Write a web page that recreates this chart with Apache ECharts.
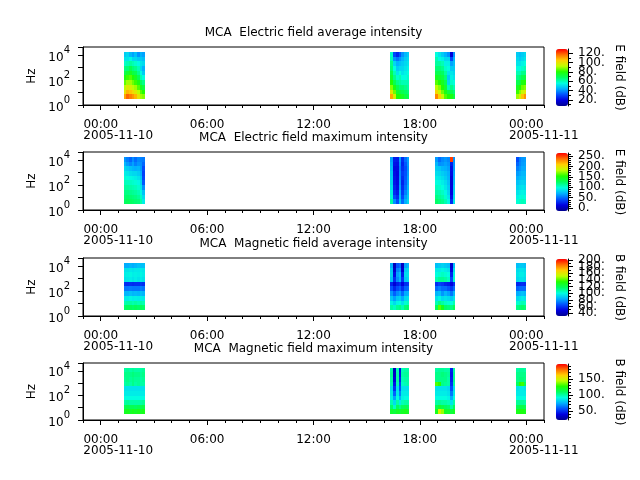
<!DOCTYPE html>
<html>
<head>
<meta charset="utf-8">
<title>MCA spectrograms 2005-11-10</title>
<script src="https://cdn.jsdelivr.net/npm/echarts@6/dist/echarts.min.js"></script>
<style>
  html, body { margin: 0; padding: 0; background: #fff; }
  #chart { width: 640px; height: 480px; }
</style>
</head>
<body>
<div id="chart"></div>
<script>
// time is in hours after 2005-11-10 00:00 UT; each burst is a list of column edges
const blockEdges = [
  [1.30, 1.45, 1.60, 1.74, 1.89, 2.04, 2.19, 2.33, 2.48],
  [16.34, 16.49, 16.65, 16.80, 16.95, 17.10, 17.26, 17.41],
  [18.87, 19.03, 19.19, 19.35, 19.52, 19.68, 19.84, 20.00],
  [23.44, 23.58, 23.72, 23.86, 24.00]
];
// frequency bin edges, Hz
const freqEdges = [3, 7.2, 17, 41, 96, 230, 545, 1300, 3080, 7300, 17400];

// one row per time column, values from lowest to highest frequency bin (dB)
const eAvg = [
  [110, 100, 92, 85, 78, 70, 65, 58, 52, 48],
  [118, 108, 98, 90, 82, 74, 66, 60, 52, 50],
  [115, 106, 96, 90, 84, 76, 70, 62, 55, 45],
  [112, 102, 92, 86, 80, 72, 66, 60, 50, 42],
  [108, 98, 90, 82, 76, 70, 64, 58, 50, 46],
  [100, 92, 84, 78, 70, 64, 60, 55, 48, 40],
  [90, 84, 76, 68, 60, 55, 50, 52, 48, 44],
  [88, 80, 72, 64, 56, 48, 44, 50, 46, 42],
  [110, 98, 88, 80, 74, 70, 66, 64, 60, 58],
  [96, 86, 78, 70, 64, 60, 56, 50, 40, 30],
  [80, 74, 70, 64, 58, 52, 48, 44, 36, 25],
  [78, 72, 66, 62, 60, 56, 50, 46, 40, 32],
  [76, 70, 66, 60, 56, 52, 50, 48, 44, 40],
  [72, 68, 64, 60, 56, 54, 52, 50, 48, 45],
  [70, 66, 62, 60, 58, 56, 54, 52, 50, 48],
  [114, 102, 92, 84, 76, 70, 66, 62, 60, 56],
  [104, 94, 88, 80, 74, 70, 66, 62, 56, 52],
  [94, 86, 80, 76, 72, 68, 64, 60, 54, 48],
  [84, 78, 74, 70, 66, 62, 58, 54, 50, 44],
  [80, 72, 60, 50, 48, 52, 56, 54, 50, 40],
  [78, 70, 64, 58, 54, 52, 48, 42, 30, 18],
  [72, 66, 60, 56, 52, 50, 48, 46, 44, 40],
  [90, 82, 76, 70, 64, 60, 56, 52, 50, 48],
  [96, 88, 80, 72, 66, 60, 56, 52, 48, 46],
  [106, 94, 86, 78, 70, 64, 58, 54, 50, 48],
  [112, 98, 88, 80, 72, 64, 60, 56, 52, 50]
];
const eMax = [
  [125, 122, 118, 112, 106, 100, 92, 84, 72, 62],
  [128, 124, 118, 112, 105, 98, 90, 80, 64, 55],
  [126, 122, 116, 110, 104, 96, 86, 76, 58, 48],
  [124, 120, 114, 108, 102, 94, 84, 72, 66, 60],
  [122, 118, 112, 106, 100, 92, 84, 70, 56, 50],
  [120, 114, 108, 102, 96, 88, 80, 72, 62, 58],
  [110, 104, 96, 90, 84, 78, 70, 64, 60, 56],
  [92, 86, 76, 60, 44, 38, 36, 40, 48, 54],
  [110, 100, 94, 88, 84, 80, 78, 74, 70, 66],
  [60, 40, 30, 26, 22, 20, 18, 16, 20, 24],
  [40, 30, 22, 18, 16, 15, 14, 16, 18, 22],
  [78, 74, 70, 66, 62, 60, 58, 56, 60, 64],
  [50, 40, 34, 30, 26, 30, 34, 30, 26, 30],
  [70, 64, 56, 50, 46, 44, 42, 40, 44, 50],
  [84, 80, 76, 72, 68, 66, 64, 62, 64, 66],
  [124, 118, 110, 104, 98, 92, 86, 80, 72, 64],
  [120, 114, 108, 102, 96, 90, 84, 78, 60, 50],
  [116, 110, 104, 98, 92, 86, 80, 72, 62, 58],
  [108, 102, 96, 90, 86, 80, 76, 70, 66, 62],
  [96, 90, 84, 80, 76, 72, 70, 66, 62, 58],
  [30, 20, 14, 12, 10, 12, 16, 18, 24, 250],
  [90, 86, 82, 78, 74, 70, 68, 64, 62, 60],
  [100, 94, 88, 82, 76, 70, 64, 56, 48, 40],
  [104, 98, 92, 86, 80, 74, 68, 62, 58, 56],
  [106, 100, 94, 88, 82, 76, 72, 68, 64, 62],
  [104, 98, 92, 86, 80, 76, 72, 68, 66, 64]
];
const bAvg = [
  [116, 106, 96, 84, 72, 58, 94, 96, 94, 82],
  [118, 108, 96, 84, 72, 57, 95, 97, 94, 82],
  [118, 108, 98, 86, 73, 58, 96, 98, 95, 84],
  [116, 106, 96, 84, 72, 57, 94, 96, 94, 82],
  [118, 108, 97, 85, 72, 58, 96, 97, 95, 84],
  [116, 106, 96, 84, 72, 58, 94, 96, 95, 86],
  [118, 108, 97, 86, 74, 60, 96, 98, 96, 86],
  [116, 106, 96, 84, 72, 58, 94, 96, 95, 86],
  [108, 98, 88, 78, 66, 56, 86, 90, 88, 82],
  [104, 92, 80, 68, 56, 46, 58, 50, 44, 40],
  [110, 98, 88, 76, 64, 54, 76, 80, 74, 66],
  [112, 100, 90, 80, 68, 58, 84, 86, 78, 70],
  [106, 94, 82, 70, 58, 48, 60, 54, 46, 42],
  [114, 102, 92, 82, 68, 58, 88, 92, 88, 80],
  [116, 104, 94, 84, 70, 60, 92, 94, 92, 84],
  [118, 106, 94, 84, 70, 58, 106, 100, 96, 86],
  [140, 112, 98, 86, 74, 62, 110, 102, 96, 88],
  [130, 108, 92, 78, 70, 60, 110, 104, 98, 90],
  [116, 104, 94, 84, 70, 56, 108, 102, 96, 88],
  [114, 102, 92, 80, 66, 54, 104, 100, 94, 86],
  [112, 100, 88, 72, 60, 48, 64, 56, 48, 44],
  [118, 106, 94, 84, 70, 58, 102, 98, 94, 86],
  [112, 102, 92, 82, 68, 56, 92, 94, 92, 86],
  [114, 104, 94, 84, 70, 57, 94, 96, 94, 88],
  [116, 106, 96, 86, 70, 58, 94, 96, 94, 88],
  [114, 104, 94, 84, 70, 57, 92, 94, 92, 86]
];
const bMax = [
  [120, 112, 100, 92, 88, 86, 100, 102, 104, 100],
  [122, 114, 102, 92, 88, 86, 102, 104, 104, 102],
  [120, 112, 100, 92, 88, 86, 100, 102, 104, 100],
  [122, 112, 100, 92, 88, 86, 104, 104, 106, 102],
  [120, 110, 100, 92, 88, 86, 100, 102, 104, 100],
  [122, 112, 100, 92, 88, 86, 102, 102, 104, 100],
  [120, 112, 100, 92, 88, 86, 100, 100, 102, 100],
  [122, 114, 102, 92, 88, 86, 100, 102, 104, 102],
  [118, 108, 98, 90, 88, 86, 98, 100, 102, 100],
  [116, 96, 84, 72, 60, 50, 44, 38, 34, 32],
  [120, 110, 100, 92, 88, 86, 98, 100, 100, 98],
  [118, 104, 88, 76, 66, 58, 54, 48, 44, 42],
  [120, 110, 98, 90, 88, 86, 96, 98, 100, 98],
  [122, 112, 100, 92, 88, 86, 98, 100, 102, 100],
  [120, 110, 100, 92, 88, 86, 100, 100, 102, 100],
  [122, 112, 100, 92, 88, 86, 132, 104, 104, 100],
  [150, 118, 102, 92, 88, 86, 128, 104, 104, 102],
  [140, 114, 100, 92, 88, 86, 104, 104, 106, 102],
  [120, 110, 100, 92, 88, 86, 102, 104, 104, 100],
  [118, 108, 98, 90, 86, 84, 100, 100, 102, 100],
  [116, 100, 86, 74, 64, 56, 50, 46, 44, 46],
  [120, 110, 100, 92, 88, 86, 100, 102, 102, 100],
  [122, 112, 102, 92, 88, 86, 110, 104, 104, 100],
  [124, 114, 102, 92, 88, 88, 128, 106, 104, 102],
  [124, 114, 102, 92, 88, 88, 130, 106, 104, 102],
  [122, 112, 100, 92, 88, 86, 112, 104, 104, 100]
];

const titles = [
  'MCA  Electric field average intensity',
  'MCA  Electric field maximum intensity',
  'MCA  Magnetic field average intensity',
  'MCA  Magnetic field maximum intensity'
];
const cbNames = ['E field (dB)', 'E field (dB)', 'B field (dB)', 'B field (dB)'];
const cbMin = [7, -14, 31, 22];
const cbMax = [129, 265, 203, 197];
const cbMajor = [
  [20, 40, 60, 80, 100, 120],
  [0, 50, 100, 150, 200, 250],
  [40, 60, 80, 100, 120, 140, 160, 180, 200],
  [50, 100, 150]
];
const cbMinor = [
  [10, 30, 50, 70, 90, 110],
  [10, 20, 30, 40, 60, 70, 80, 90, 110, 120, 130, 140, 160, 170, 180, 190, 210, 220, 230, 240, 260],
  [50, 70, 90, 110, 130, 150, 170, 190],
  [30, 40, 60, 70, 80, 90, 110, 120, 130, 140, 160, 170, 180, 190]
];
const majorHours = [0, 6, 12, 18, 24];
const minorHours = [-1, 1, 2, 3, 4, 5, 7, 8, 9, 10, 11, 13, 14, 15, 16, 17, 19, 20, 21, 22, 23, 25];

// layout
const T0 = Date.UTC(2005, 10, 10);
const HOUR = 3600 * 1000;
const gridTop = [47, 152, 258, 363];
const gridH = [58, 58, 58, 57];
const cbTop = [49, 153, 259, 364];
const cbH = [57, 58, 57, 56];
const cmap = ['#000090', '#0000e0', '#0050ff', '#00b0ff', '#00ffe0', '#00ff60',
  '#20ff00', '#c0ff00', '#ffd000', '#ff7000', '#ff0000'];
const black = '#000';
// colour bar labels sit close together, so they are spread over three
// overlaid axes to keep echarts from dropping the ones that touch
const labelSets = [0, 1, 2];

function cells(values) {
  const out = [];
  let c = 0;
  blockEdges.forEach(edges => {
    for (let k = 0; k < edges.length - 1; k++, c++) {
      values[c].forEach((v, r) => {
        out.push([T0 + edges[k] * HOUR, T0 + edges[k + 1] * HOUR, freqEdges[r], freqEdges[r + 1], v]);
      });
    }
  });
  return out;
}

function renderCell(params, api) {
  const a = api.coord([api.value(0), api.value(3)]);
  const b = api.coord([api.value(1), api.value(2)]);
  const x0 = Math.round(a[0]), x1 = Math.round(b[0]);
  const y0 = Math.round(a[1]), y1 = Math.round(b[1]);
  return {
    type: 'rect',
    shape: { x: x0, y: y0, width: x1 - x0, height: y1 - y0 },
    style: { fill: api.visual('color') }
  };
}

const pad2 = n => String(n).padStart(2, '0');
function timeLabel(value) {
  const d = new Date(value);
  const hm = pad2(d.getUTCHours()) + ':' + pad2(d.getUTCMinutes());
  if (d.getUTCHours() === 0) {
    const day = d.getUTCFullYear() + '-' + pad2(d.getUTCMonth() + 1) + '-' + pad2(d.getUTCDate());
    return '{t|' + hm + '}\n{p| }{t|' + day + '}';
  }
  return '{t|' + hm + '}';
}

function hzLabel(v) {
  const e = Math.round(Math.log10(v));
  return e % 2 === 0 ? '{b|10}{s|' + e + '}' : '';
}

const panelValues = [eAvg, eMax, bAvg, bMax];
const option = {
  animation: false,
  textStyle: { fontFamily: 'DejaVu Sans', color: black },
  title: [], grid: [], xAxis: [], yAxis: [], visualMap: [], series: []
};

panelValues.forEach((values, i) => {
  option.title.push({
    text: titles[i], left: 313.5, top: gridTop[i] - 20, textAlign: 'center', padding: 0,
    textStyle: { fontFamily: 'DejaVu Sans', fontSize: 12, fontWeight: 'normal', color: black }
  });
  option.grid.push({
    left: 83, top: gridTop[i], width: 461, height: gridH[i],
    show: true, borderColor: black, borderWidth: 1, backgroundColor: 'transparent'
  });
  // major hour ticks with labels (x values are UT milliseconds)
  option.xAxis.push({
    gridIndex: i, type: 'value', position: 'bottom',
    min: T0 - HOUR, max: T0 + 25 * HOUR,
    axisLine: { onZero: false, lineStyle: { color: black, width: 1 } },
    axisTick: { length: 5, lineStyle: { color: black }, customValues: majorHours.map(h => T0 + h * HOUR) },
    axisLabel: {
      customValues: majorHours.map(h => T0 + h * HOUR), hideOverlap: false,
      formatter: timeLabel, margin: 14, color: black,
      rich: {
        t: { fontFamily: 'DejaVu Sans', fontSize: 12, lineHeight: 11, color: black },
        p: { width: 35, lineHeight: 11 }
      }
    },
    splitLine: { show: false }
  });
  // minor hour ticks
  option.xAxis.push({
    gridIndex: i, type: 'value', position: 'bottom',
    min: T0 - HOUR, max: T0 + 25 * HOUR,
    axisLine: { show: false, onZero: false },
    axisTick: { length: 3, lineStyle: { color: black }, customValues: minorHours.map(h => T0 + h * HOUR) },
    axisLabel: { show: false },
    splitLine: { show: false }
  });
  option.yAxis.push({
    gridIndex: i, type: 'log', logBase: 10, min: 1, max: 43000,
    name: 'Hz', nameLocation: 'middle', nameRotate: 90, nameGap: 42,
    nameTextStyle: { fontFamily: 'DejaVu Sans', fontSize: 12, color: black },
    axisLine: { show: true, onZero: false, lineStyle: { color: black, width: 1 } },
    axisTick: { show: true, length: 5, lineStyle: { color: black } },
    axisLabel: {
      formatter: hzLabel, margin: 13, color: black, hideOverlap: false,
      rich: {
        b: { fontFamily: 'DejaVu Sans', fontSize: 12, lineHeight: 12, padding: [5, 0, 0, 0], color: black },
        s: { fontFamily: 'DejaVu Sans', fontSize: 10, lineHeight: 10, padding: [0, 0, 9, 0], color: black }
      }
    },
    splitLine: { show: false }
  });
  option.series.push({
    type: 'custom', xAxisIndex: 2 * i, yAxisIndex: i, silent: true,
    renderItem: renderCell,
    encode: { x: [0, 1], y: [2, 3] },
    data: cells(values)
  });
  option.visualMap.push({
    type: 'continuous', seriesIndex: i, dimension: 4,
    min: cbMin[i], max: cbMax[i], calculable: false, hoverLink: false,
    left: 556, top: cbTop[i], itemWidth: 12, itemHeight: cbH[i], padding: 0,
    inRange: { color: cmap }
  });
});

// colour bar axes
panelValues.forEach((values, i) => {
  option.grid.push({ left: 556, top: cbTop[i], width: 12, height: cbH[i] });
  option.xAxis.push({ gridIndex: 4 + i, type: 'value', min: 0, max: 1, show: false });
});
panelValues.forEach((values, i) => {
  // line, name and major ticks
  option.yAxis.push({
    gridIndex: 4 + i, type: 'value', position: 'right', min: cbMin[i], max: cbMax[i],
    name: cbNames[i], nameLocation: 'middle', nameRotate: -90, nameGap: 45,
    nameTextStyle: { fontFamily: 'DejaVu Sans', fontSize: 12, color: black },
    axisLine: { show: true, onZero: false, lineStyle: { color: black, width: 1 } },
    axisTick: { length: 5, lineStyle: { color: black }, customValues: cbMajor[i] },
    axisLabel: { show: false },
    splitLine: { show: false }
  });
  // minor ticks
  option.yAxis.push({
    gridIndex: 4 + i, type: 'value', position: 'right', min: cbMin[i], max: cbMax[i],
    axisLine: { show: false, onZero: false },
    axisTick: { length: 3, lineStyle: { color: black }, customValues: cbMinor[i] },
    axisLabel: { show: false },
    splitLine: { show: false }
  });
  // tick labels
  labelSets.forEach(k => {
    option.yAxis.push({
      gridIndex: 4 + i, type: 'value', position: 'right', min: cbMin[i], max: cbMax[i],
      axisLine: { show: false, onZero: false },
      axisTick: { show: false },
      axisLabel: {
        customValues: cbMajor[i].filter((v, j) => j % labelSets.length === k),
        formatter: v => v + '.', margin: 10, hideOverlap: false,
        fontFamily: 'DejaVu Sans', fontSize: 12, color: black
      },
      splitLine: { show: false }
    });
  });
});

const chart = echarts.init(document.getElementById('chart'), null, { renderer: 'canvas' });
chart.setOption(option);
</script>
</body>
</html>
